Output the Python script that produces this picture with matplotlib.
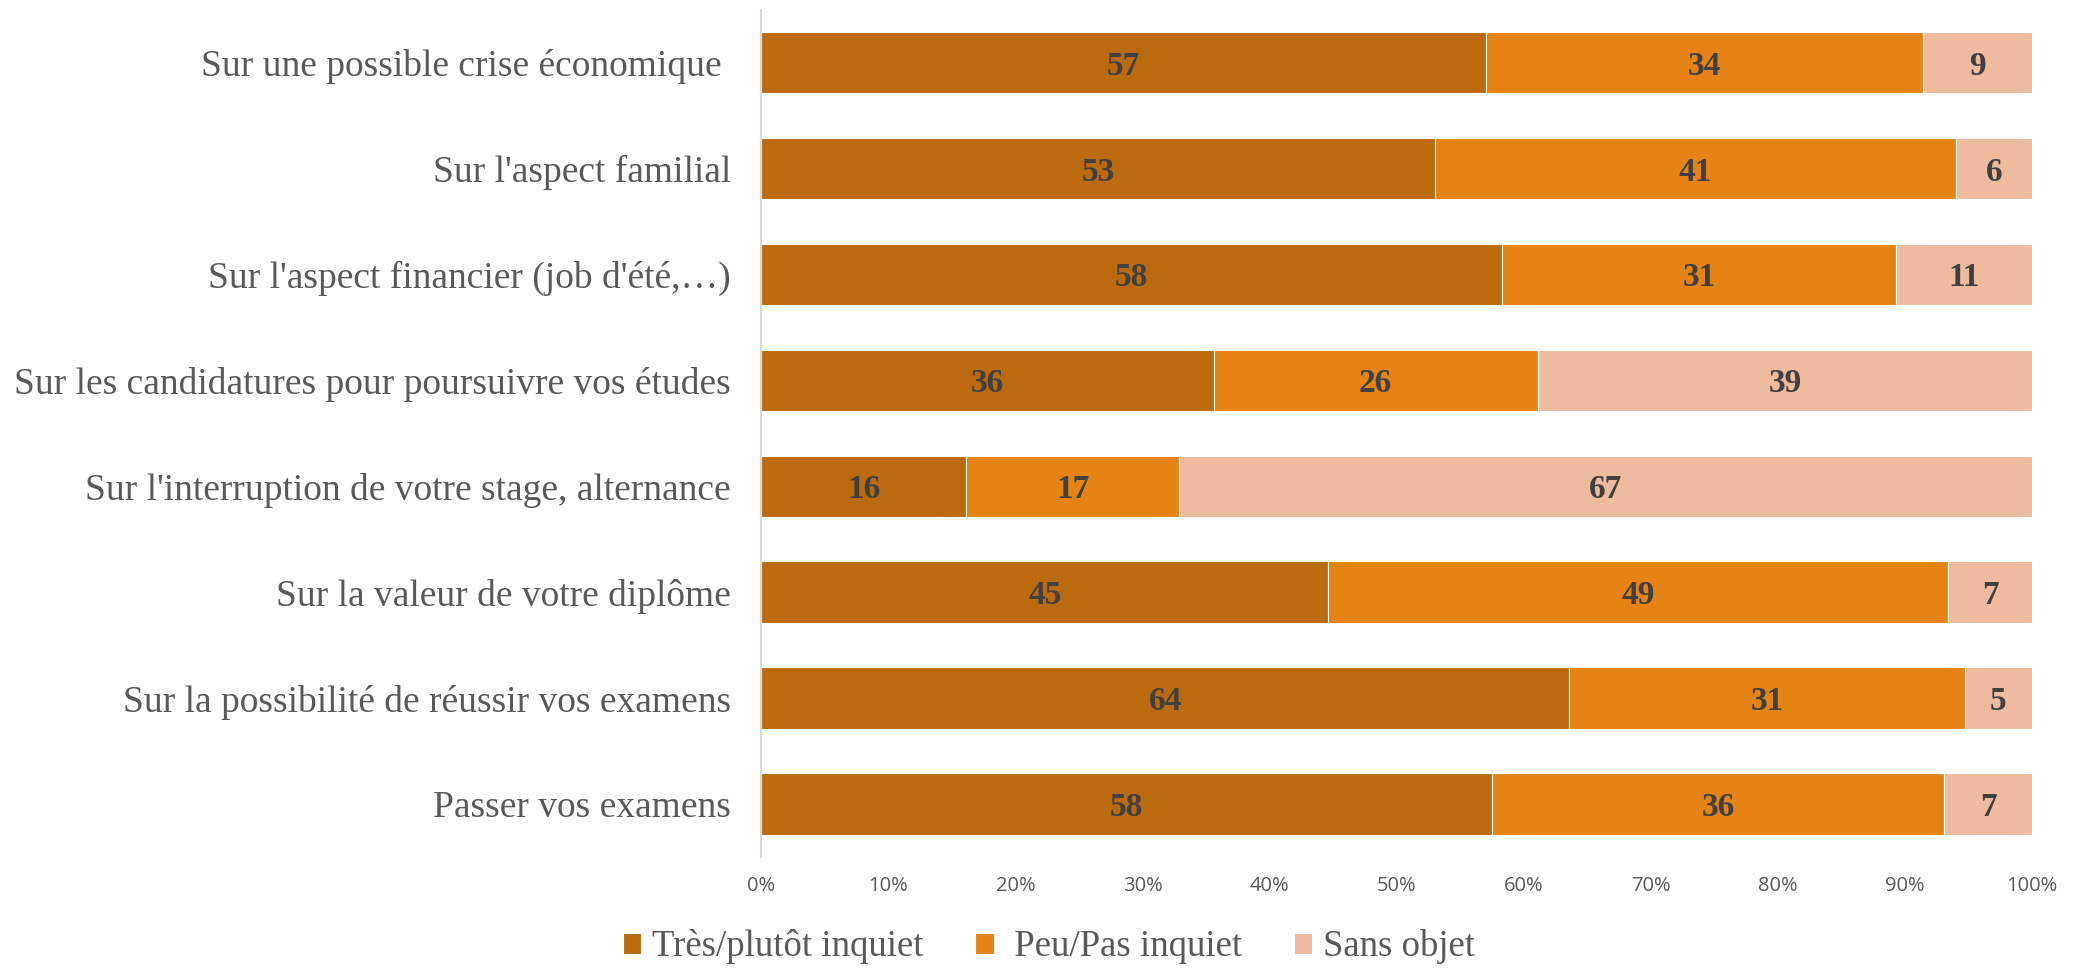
import matplotlib.pyplot as plt
from matplotlib.ticker import PercentFormatter

categories = [
    "Sur une possible crise économique ",
    "Sur l'aspect familial",
    "Sur l'aspect financier (job d'été,…)",
    "Sur les candidatures pour poursuivre vos études",
    "Sur l'interruption de votre stage, alternance",
    "Sur la valeur de votre diplôme",
    "Sur la possibilité de réussir vos examens",
    "Passer vos examens",
]
tres_inquiet = [57.0, 53.0, 58.3, 35.6, 16.1, 44.6, 63.6, 57.5]
peu_inquiet = [34.4, 41.0, 31.0, 25.5, 16.8, 48.8, 31.1, 35.6]
sans_objet = [8.6, 6.0, 10.7, 38.9, 67.1, 6.6, 5.3, 6.9]

series = [
    ("Très/plutôt inquiet", tres_inquiet, "#BC6A0E"),
    (" Peu/Pas inquiet", peu_inquiet, "#E58314"),
    ("Sans objet", sans_objet, "#EEBB9F"),
]

fig = plt.figure(figsize=(20.73, 9.68), dpi=100)
ax = fig.add_axes([0.3673, 0.1148, 0.6129, 0.8752])

y = list(range(len(categories)))
left = [0.0] * len(categories)
for name, vals, color in series:
    bars = ax.barh(y, vals, left=left, height=0.58, color=color,
                   edgecolor="white", linewidth=0.8, label=name)
    texts = ax.bar_label(bars, labels=[f"{v:.0f}" for v in vals], label_type="center",
                         fontsize=24, fontweight="bold", color="#404040",
                         family="Liberation Serif")
    for t in texts:
        t.set_va("center_baseline")
    left = [l + v for l, v in zip(left, vals)]

ax.set_ylim(len(categories) - 0.5, -0.5)
ax.set_xlim(0, 100)
ax.set_yticks(y)
ax.set_yticklabels(categories, family="Liberation Serif", fontsize=27, color="#595959")
ax.set_xticks(range(0, 101, 10))
ax.xaxis.set_major_formatter(PercentFormatter(decimals=0))
for lab in ax.get_xticklabels():
    lab.set_family("Open Sans")
    lab.set_fontsize(14.5)
    lab.set_color("#595959")
ax.tick_params(length=0)
ax.tick_params(axis="y", pad=22)
ax.tick_params(axis="x", pad=14)
for s in ["top", "right", "bottom"]:
    ax.spines[s].set_visible(False)
ax.spines["left"].set_color("#D9D9D9")
ax.spines["left"].set_linewidth(1.5)

leg = fig.legend(loc="center", bbox_to_anchor=(0.506, 0.022), ncol=3, frameon=False,
                 prop={"family": "Liberation Serif", "size": 26.5},
                 handlelength=0.5, handleheight=0.5, handletextpad=0.3, columnspacing=1.4)
for t in leg.get_texts():
    t.set_color("#595959")

fig.savefig("out.png", dpi=100)
